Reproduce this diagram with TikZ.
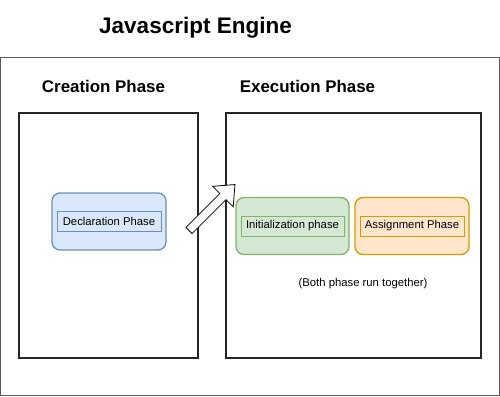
\documentclass[tikz,border=0pt]{standalone}
\usepackage{fontspec}
\setmainfont{Liberation Sans}
\usepackage{xcolor}
\usepackage{tikz}
\usetikzlibrary{arrows.meta,calc}
\definecolor{declfill}{HTML}{DAE8FC}
\definecolor{declline}{HTML}{6C8EBF}
\definecolor{initfill}{HTML}{D5E8D4}
\definecolor{initline}{HTML}{82B366}
\definecolor{assignfill}{HTML}{FFE6CC}
\definecolor{assignline}{HTML}{D79B00}
\colorlet{framegray}{black!65}
\tikzset{
  heading/.style={font=\bfseries\fontsize{16.9}{20}\selectfont,inner sep=0pt},
  phasebox/.style={draw=black!85,line width=1.4pt,minimum width=#1,minimum height=245,inner sep=0pt},
  stagebox/.style={rounded corners=8,line width=1.3pt,minimum height=57,inner sep=0pt},
  tag/.style={draw,line width=0.6pt,minimum height=20,inner sep=0pt,font=\fontsize{11.3}{13}\selectfont}
}
% one drawio style block: rounded box with a framed label inside
\newcommand{\stage}[6]{%
  \node[stagebox,fill=#4,draw=#5,minimum width=#3] (#1) at #2 {};
  \node[tag,draw=#5,minimum width={#3-10}] (#1txt) at (#1) {#6};}

\begin{document}
\begin{tikzpicture}[x=1pt,y=-1pt]
\useasboundingbox (0,0) rectangle (500,396);
% ---- outer engine frame ----
\draw[framegray,line width=1.2pt] (0.6,57.5) rectangle (499.4,395.4);
\node[font=\bfseries\fontsize{22.5}{26}\selectfont,inner sep=0pt] (title) at (195.5,28) {Javascript Engine};
\node[heading] (creation) at (103.5,86) {Creation Phase};
\node[heading] (execution) at (307.5,86) {Execution Phase};
% ---- the two phase boxes ----
\node[phasebox=179] (left) at (108.5,235.5) {};
\node[phasebox=255] (right) at (353.5,235.5) {};
% ---- stages ----
\stage{decl}{(109,221.5)}{114}{declfill}{declline}{Declaration Phase}
\stage{init}{(292.5,226)}{113}{initfill}{initline}{Initialization phase}
\stage{assign}{(412,226)}{114}{assignfill}{assignline}{Assignment Phase}
\node[font=\fontsize{11.3}{13}\selectfont,inner sep=0pt] (note) at (363,283.5) {(Both phase run together)};
% ---- hollow block arrow from creation to execution ----
\begin{scope}[shift={(189,230.5)},rotate=45]
\draw[fill=white,line width=0.8pt,line join=miter]
  (0,-4.3) -- (48,-4.3) -- (48,-14.5) -- (65,0) -- (48,14.5) -- (48,4.3) -- (0,4.3) -- cycle;
\end{scope}
\end{tikzpicture}
\end{document}
